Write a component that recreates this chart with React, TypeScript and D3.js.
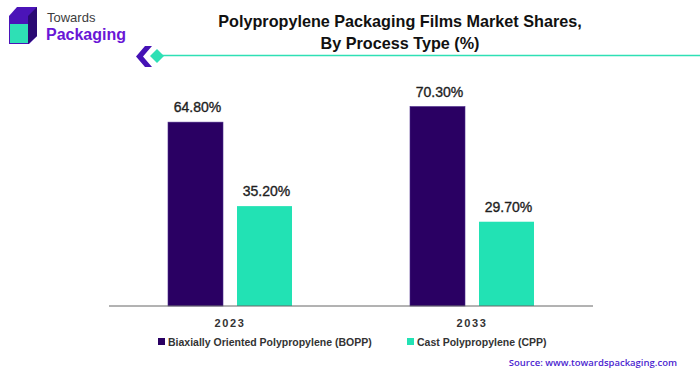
import React from "react";
import * as d3 from "d3";

const years = ["2023", "2033"];
const seriesNames = ["Biaxially Oriented Polypropylene (BOPP)", "Cast Polypropylene (CPP)"];
const boppValues = [64.8, 70.3];
const cppValues = [35.2, 29.7];
const seriesColors = ["#2a0063", "#22e2b4"];
const titleLines = ["Polypropylene Packaging Films Market Shares,", "By Process Type (%)"];
const sourceText = "Source: www.towardspackaging.com";

export default function App() {
  const W = 700, H = 376;
  const x0 = d3.scaleBand<string>().domain(years).range([109, 593]).padding(0);
  const x1 = d3.scaleBand<string>().domain(["bopp", "cpp"]).range([0, 124]).paddingInner(0.203);
  const y = d3.scaleLinear().domain([0, 80]).range([306, 79]);
  const groupOffset = (x0.bandwidth() - 124) / 2;
  const data = years.map((yr, i) => ({ yr, vals: [{ k: "bopp", v: boppValues[i], c: seriesColors[0] }, { k: "cpp", v: cppValues[i], c: seriesColors[1] }] }));
  const font = "'Liberation Sans', Arial, sans-serif";
  return (
    <svg width={W} height={H} style={{ position: "absolute", left: 0, top: 0 }} xmlns="http://www.w3.org/2000/svg">
      <rect width={W} height={H} fill="#fff" />
      {/* logo */}
      <g>
        <polygon points="9,16 17,7 37,7 37,36 29,44 9,44" fill="#4b14b8" />
        <polygon points="28,16 37,7 37,36 28,44" fill="#2a0a73" />
        <rect x={10} y={24} width={18} height={19} fill="#2ee0b5" />
        <text x={47} y={22} fontFamily={font} fontSize={13} fill="#3d3d3d">Towards</text>
        <text x={46} y={40} fontFamily={font} fontWeight={700} fontSize={16} fill="#6a16d6">Packaging</text>
      </g>
      {/* decoration */}
      <g>
        <line x1={160} x2={700} y1={55.5} y2={55.5} stroke="#2ee0b5" strokeWidth={1.5} />
        <polygon points="145,46 152,46 143,56.5 152,67 145,67 136,56.5" fill="#4512b5" />
        <polygon points="157,49 164,56 157,63 150,56" fill="#2ee0b5" />
      </g>
      {/* title */}
      {titleLines.map((t, i) => (
        <text key={i} x={400} y={27 + i * 22} textAnchor="middle" fontFamily={font} fontWeight={700} fontSize={16.2} fill="#111">{t}</text>
      ))}
      {/* bars */}
      {data.map((g) => (
        <g key={g.yr} transform={`translate(${(x0(g.yr) ?? 0) + groupOffset},0)`}>
          {g.vals.map((d) => (
            <g key={d.k}>
              <rect x={x1(d.k)} y={y(d.v)} width={x1.bandwidth()} height={y(0) - y(d.v)} fill={d.c} stroke={d.k === "bopp" ? "#4a2a8a" : "none"} strokeWidth={0.6} />
              <text x={(x1(d.k) ?? 0) + x1.bandwidth() / 2 + 2} y={y(d.v) - 10} textAnchor="middle" fontFamily={font} fontSize={14} fill="#1e1e1e" stroke="#1e1e1e" strokeWidth={0.35}>{d.v.toFixed(2)}%</text>
            </g>
          ))}
          <text x={62} y={327} textAnchor="middle" fontFamily={font} fontWeight={700} fontSize={11} letterSpacing={1.6} fill="#333">{g.yr}</text>
        </g>
      ))}
      <line x1={109} x2={593} y1={306} y2={306} stroke="#666" strokeWidth={1} />
      {/* legend */}
      {seriesNames.map((n, i) => {
        const lx = i === 0 ? 158 : 407;
        return (
          <g key={n}>
            <rect x={lx} y={338} width={7} height={7} fill={seriesColors[i]} />
            <text x={lx + 10} y={345.5} fontFamily={font} fontWeight={700} fontSize={10.5} fill="#333">{n}</text>
          </g>
        );
      })}
      <text x={677} y={365.5} textAnchor="end" fontFamily="'Open Sans', sans-serif" fontWeight={600} fontSize={9.5} fill="#4c1fd0">{sourceText}</text>
    </svg>
  );
}
